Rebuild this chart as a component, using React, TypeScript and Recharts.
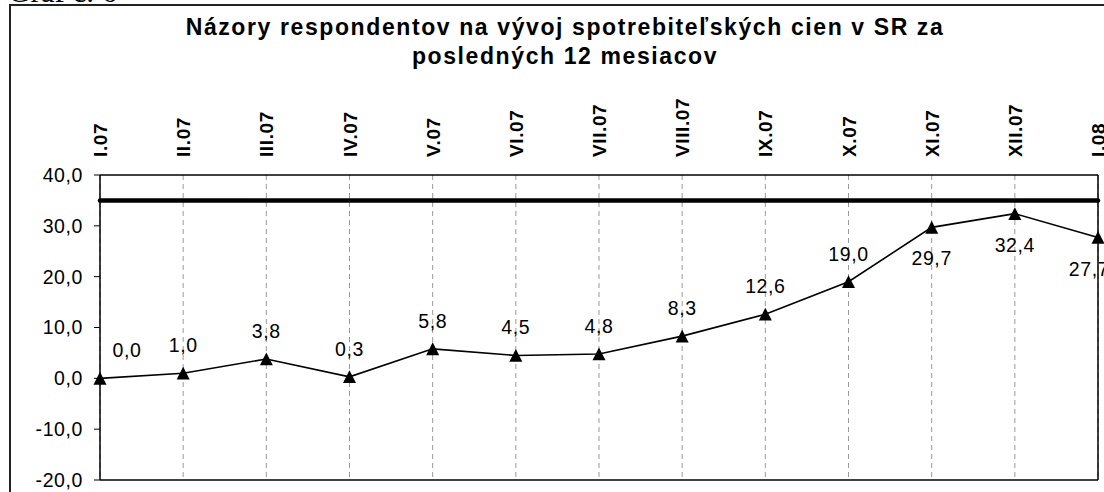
import React from 'react';
import { LineChart, Line, XAxis, YAxis, CartesianGrid, ReferenceLine } from 'recharts';

const months = ['I.07', 'II.07', 'III.07', 'IV.07', 'V.07', 'VI.07', 'VII.07', 'VIII.07', 'IX.07', 'X.07', 'XI.07', 'XII.07', 'I.08'];
const opinions = [0.0, 1.0, 3.8, 0.3, 5.8, 4.5, 4.8, 8.3, 12.6, 19.0, 29.7, 32.4, 27.7];
const yTicks = [-20, -10, 0, 10, 20, 30, 40];
const thresholdValue = 35;
const titleLines = ['Názory respondentov na vývoj spotrebiteľských cien v SR za', 'posledných 12 mesiacov'];
const captionText = 'Graf č. 6';

const data = months.map((m, i) => ({ month: m, value: opinions[i] }));

const fmt = (v: number) => v.toFixed(1).replace('.', ',');

const FONT = 'Arial, "Liberation Sans", Helvetica, sans-serif';

const TopTick = (props: any) => {
  const { x, y, payload } = props;
  return (
    <text
      x={x + 7}
      y={y}
      transform={`rotate(-90, ${x + 7}, ${y})`}
      textAnchor="start"
      fontFamily={FONT}
      fontWeight="bold"
      fontSize={19}
      letterSpacing={0.6}
      fill="#000"
    >
      {payload.value}
    </text>
  );
};

const Triangle = (props: any) => {
  const { cx, cy, index } = props;
  if (cx == null || cy == null) return <g key={`t-${index}`} />;
  return (
    <polygon
      key={`t-${index}`}
      points={`${cx},${cy - 6.5} ${cx - 6.5},${cy + 6.3} ${cx + 6.5},${cy + 6.3}`}
      fill="#000"
    />
  );
};

const ValueLabel = (props: any) => {
  const { x, y, value, index } = props;
  const below = index >= 10;
  const dx = index === 0 ? 27 : index === opinions.length - 1 ? -9 : 0;
  return (
    <text
      x={x + dx}
      y={below ? y + 31 : y - 28}
      textAnchor="middle"
      dominantBaseline="central"
      fontFamily={FONT}
      fontSize={19.5}
      letterSpacing={0.6}
      fill="#000"
    >
      {fmt(value)}
    </text>
  );
};

export default function App() {
  return (
    <div style={{ position: 'absolute', left: 0, top: 0, width: 1104, height: 492, overflow: 'hidden', background: '#fff' }}>
      <div
        style={{
          position: 'absolute',
          left: 8,
          top: -24.5,
          fontFamily: '"Liberation Serif", "Times New Roman", serif',
          fontSize: 31,
          lineHeight: '31px',
          whiteSpace: 'nowrap',
          color: '#000',
        }}
      >
        {captionText}
      </div>
      <div
        style={{
          position: 'absolute',
          left: 9,
          top: 4,
          width: 1200,
          height: 600,
          borderLeft: '2px solid #222',
          borderTop: '2px solid #222',
          background: 'transparent',
        }}
      />
      <div
        style={{
          position: 'absolute',
          left: 0,
          top: 12.5,
          width: 1130,
          textAlign: 'center',
          fontFamily: FONT,
          fontWeight: 'bold',
          fontSize: 23,
          letterSpacing: 1.6,
          lineHeight: '29px',
          color: '#000',
          whiteSpace: 'nowrap',
        }}
      >
        <div>{titleLines[0]}</div>
        <div>{titleLines[1]}</div>
      </div>
      <div style={{ position: 'absolute', left: 0, top: 0 }}>
        <LineChart width={1104} height={492} data={data} margin={{ top: 75, right: 6, bottom: 0, left: 30 }}>
          <CartesianGrid horizontal={false} vertical stroke="#999" strokeDasharray="5 4" xAxisId="top" />
          <XAxis
            xAxisId="top"
            dataKey="month"
            orientation="top"
            height={100}
            tickLine={false}
            tickSize={0}
            tickMargin={18}
            tick={<TopTick />}
            interval={0}
            axisLine={{ stroke: '#000', strokeWidth: 1.5 }}
          />
          <XAxis
            xAxisId="bottom"
            dataKey="month"
            orientation="bottom"
            height={12}
            tickSize={6}
            tick={false}
            interval={0}
            tickLine={{ stroke: '#000', strokeWidth: 1 }}
            axisLine={{ stroke: '#000', strokeWidth: 1.5 }}
          />
          <YAxis
            domain={[-20, 40]}
            ticks={yTicks}
            width={70}
            tickSize={6}
            tickMargin={11}
            tickFormatter={fmt}
            interval={0}
            tick={{ fontFamily: FONT, fontSize: 19.5, fill: '#000', letterSpacing: 0.6 }}
            tickLine={{ stroke: '#000' }}
            axisLine={{ stroke: '#000', strokeWidth: 1.5 }}
          />
          <ReferenceLine xAxisId="top" x={months[months.length - 1]} stroke="#000" strokeWidth={1.5} />
          <ReferenceLine
            xAxisId="top"
            y={thresholdValue}
            stroke="#000"
            strokeWidth={4.5}
            strokeLinecap="round"
            segment={[{ x: months[0], y: thresholdValue }, { x: months[months.length - 1], y: thresholdValue }]}
          />
          <Line
            xAxisId="top"
            dataKey="value"
            stroke="#000"
            strokeWidth={1.6}
            dot={<Triangle />}
            activeDot={false}
            label={<ValueLabel />}
            isAnimationActive={false}
          />
        </LineChart>
      </div>
    </div>
  );
}
